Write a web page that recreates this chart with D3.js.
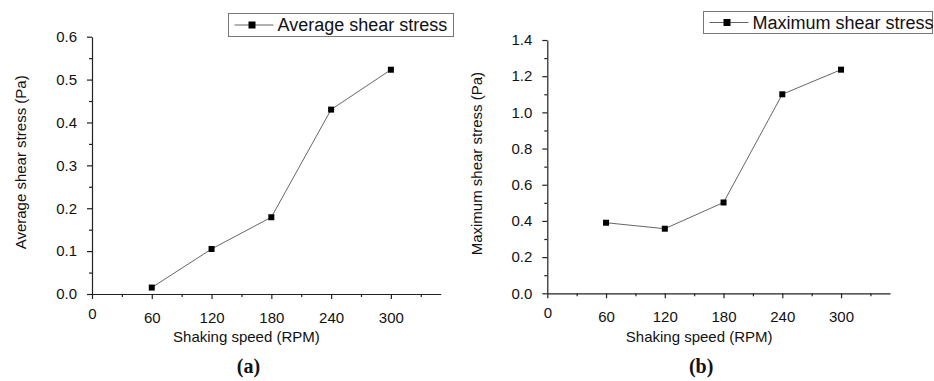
<!DOCTYPE html>
<html>
<head>
<meta charset="utf-8">
<script src="https://cdn.jsdelivr.net/npm/d3@7"></script>
<style>
  body { margin: 0; background: #fff; }
  svg { display: block; font-family: "Liberation Sans", Arial, sans-serif; }
</style>
</head>
<body>
<svg id="chart" width="934" height="381"></svg>
<script>
// shaking speed (RPM)
const speeds = [60, 120, 180, 240, 300];
// panel (a) average shear stress (Pa)
const avgStress = [0.015, 0.105, 0.179, 0.43, 0.523];
// panel (b) maximum shear stress (Pa)
const maxStress = [0.39, 0.357, 0.502, 1.1, 1.236];

const xTicks = [0, 60, 120, 180, 240, 300];
const xMinor = [30, 90, 150, 210, 270, 330];

const svg = d3.select('#chart');

const panels = [
    {
        values: avgStress, label: 'Average shear stress', yTitle: 'Average shear stress (Pa)', caption: '(a)',
        left: 92, right: 440.7, top: 36.7, bottom: 294,
        yMax: 0.6, yStep: 0.1, legend: { x: 228.5, y: 13.5, w: 225, h: 23 }
    },
    {
        values: maxStress, label: 'Maximum shear stress', yTitle: 'Maximum shear stress (Pa)', caption: '(b)',
        left: 547.3, right: 890, top: 40, bottom: 293.3,
        yMax: 1.4, yStep: 0.2, legend: { x: 703.5, y: 11.5, w: 229, h: 22 }
    }
];

panels.forEach(p => {
    const x = d3.scaleLinear().domain([0, 350]).range([p.left, p.right]);
    const y = d3.scaleLinear().domain([0, p.yMax]).range([p.bottom, p.top]);

    const yMajor = d3.range(0, p.yMax + 1e-9, p.yStep);
    const yMinor = d3.range(p.yStep / 2, p.yMax, p.yStep);

    const g = svg.append('g');

    // minor ticks
    g.append('g').attr('transform', `translate(0,${p.bottom})`)
        .call(d3.axisBottom(x).tickValues(xMinor).tickSize(3).tickFormat(''))
        .call(a => a.select('.domain').remove());
    g.append('g').attr('transform', `translate(${p.left},0)`)
        .call(d3.axisLeft(y).tickValues(yMinor).tickSize(3).tickFormat(''))
        .call(a => a.select('.domain').remove());

    // major axes
    const xa = g.append('g').attr('transform', `translate(0,${p.bottom})`)
        .call(d3.axisBottom(x).tickValues(xTicks).tickSize(5).tickSizeOuter(0).tickPadding(13));
    const ya = g.append('g').attr('transform', `translate(${p.left},0)`)
        .call(d3.axisLeft(y).tickValues(yMajor).tickSize(5).tickSizeOuter(0).tickPadding(10)
            .tickFormat(d3.format('.1f')));

    g.selectAll('.tick line, .domain').attr('stroke', '#222').attr('stroke-width', 1.2);
    [xa, ya].forEach(a => a.selectAll('text').attr('font-size', 15)
        .attr('font-family', '"Liberation Sans", Arial, sans-serif').attr('fill', '#111'));
    // the origin label sits a little higher in the original
    xa.selectAll('.tick').filter(d => d === 0).select('text').attr('y', 14);

    // axis titles
    g.append('text')
        .attr('x', (p.left + x(300)) / 2 + 5).attr('y', 342)
        .attr('text-anchor', 'middle').attr('font-size', 15).attr('fill', '#111')
        .text('Shaking speed (RPM)');
    g.append('text')
        .attr('transform', `translate(${p.left - 71},${(p.top + p.bottom) / 2 - 3}) rotate(-90)`)
        .attr('dy', '0.35em')
        .attr('text-anchor', 'middle').attr('font-size', 15).attr('fill', '#111')
        .text(p.yTitle);

    // data line and markers
    const pts = speeds.map((s, i) => [s, p.values[i]]);
    g.append('path')
        .datum(pts)
        .attr('fill', 'none').attr('stroke', '#666').attr('stroke-width', 1)
        .attr('d', d3.line().x(d => x(d[0])).y(d => y(d[1])));
    g.selectAll('rect.pt').data(pts).enter().append('rect')
        .attr('class', 'pt')
        .attr('x', d => x(d[0]) - 3).attr('y', d => y(d[1]) - 3)
        .attr('width', 6).attr('height', 6).attr('fill', '#000');

    // legend
    const L = p.legend;
    const lg = g.append('g');
    lg.append('rect').attr('x', L.x).attr('y', L.y).attr('width', L.w).attr('height', L.h)
        .attr('fill', '#fff').attr('stroke', '#777').attr('stroke-width', 1);
    const cy = L.y + L.h / 2;
    lg.append('line').attr('x1', L.x + 6).attr('x2', L.x + 45).attr('y1', cy).attr('y2', cy)
        .attr('stroke', '#666').attr('stroke-width', 1);
    lg.append('rect').attr('x', L.x + 20).attr('y', cy - 3.5).attr('width', 7).attr('height', 7).attr('fill', '#000');
    lg.append('text').attr('x', L.x + 49).attr('y', cy).attr('dy', '0.36em')
        .attr('font-size', 18).attr('fill', '#111').text(p.label);

    // caption
    g.append('text')
        .attr('x', (p.left + x(300)) / 2 + 7).attr('y', 373)
        .attr('text-anchor', 'middle')
        .attr('font-family', '"Liberation Serif", "Times New Roman", serif')
        .attr('font-weight', 'bold').attr('font-size', 20).attr('fill', '#111')
        .text(p.caption);
});
</script>
</body>
</html>
